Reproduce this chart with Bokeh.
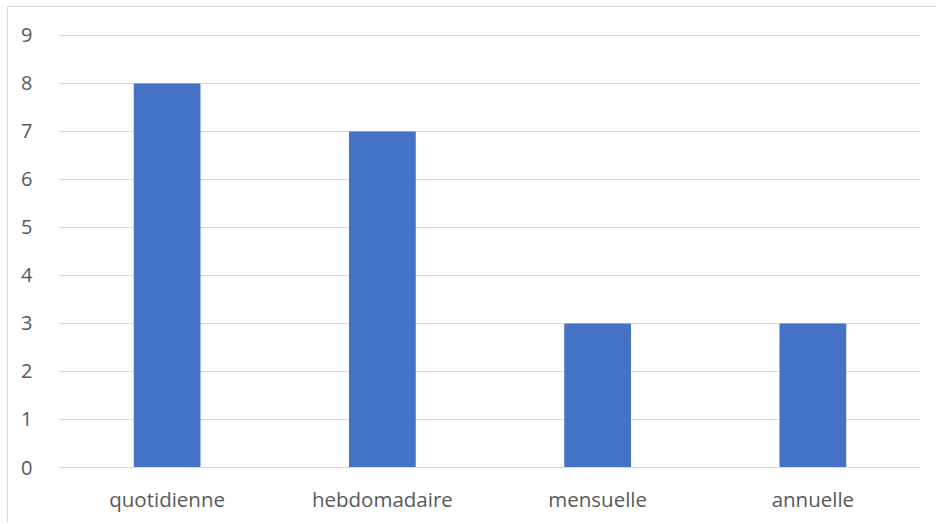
from bokeh.plotting import figure
from bokeh.models import Range1d, FixedTicker
from bokeh.embed import file_html
from bokeh.resources import INLINE

categories = ["quotidienne", "hebdomadaire", "mensuelle", "annuelle"]
values = [8, 7, 3, 3]
y_ticks = [0, 1, 2, 3, 4, 5, 6, 7, 8, 9]

p = figure(x_range=categories, width=929, height=516, output_backend="svg",
           toolbar_location=None, min_border_left=51, min_border_right=17,
           min_border_top=27, min_border_bottom=56)
p.y_range = Range1d(0, 9.02)
p.vbar(x=categories, top=values, width=0.31, color="#4472C4", line_color=None)

p.styles = {"border-left": "1px solid #d9d9d9", "border-top": "1px solid #d9d9d9",
            "margin-left": "7px", "margin-top": "6px"}
p.outline_line_color = None
p.xgrid.grid_line_color = None
p.ygrid.grid_line_color = "#d9d9d9"
p.ygrid.grid_line_width = 1

p.yaxis.ticker = FixedTicker(ticks=y_ticks)
p.yaxis.axis_line_color = None
p.yaxis.major_tick_line_color = None
p.yaxis.minor_tick_line_color = None
p.yaxis.major_label_standoff = 21
p.yaxis.major_label_text_font = "Open Sans"
p.yaxis.major_label_text_font_size = "20px"
p.yaxis.major_label_text_color = "#595959"

p.xaxis.axis_line_color = "#d9d9d9"
p.xaxis.major_tick_line_color = None
p.xaxis.minor_tick_line_color = None
p.xaxis.major_label_standoff = 11
p.xaxis.major_label_text_font = "Open Sans"
p.xaxis.major_label_text_font_size = "20.5px"
p.xaxis.major_label_text_color = "#595959"

open("out.html", "w").write(file_html(p, INLINE))
